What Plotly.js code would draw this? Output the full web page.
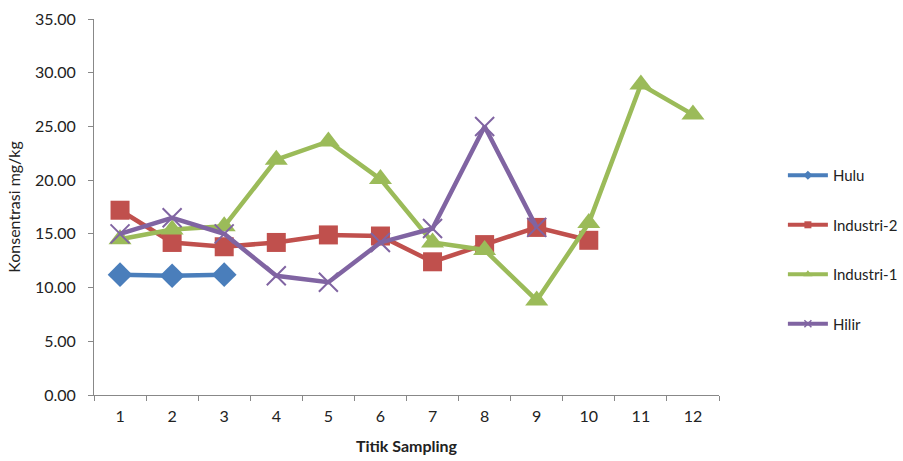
<!DOCTYPE html>
<html>
<head>
<meta charset="utf-8">
<script src="https://cdn.plot.ly/plotly-3.0.1.min.js"></script>
<style>html,body{margin:0;padding:0;background:#fff;}#chart{width:903px;height:461px;}</style>
</head>
<body>
<div id="chart"></div>
<script>
const categories = ['1','2','3','4','5','6','7','8','9','10','11','12'];
const seriesNames = ['Hulu','Industri-2','Industri-1','Hilir'];
const hulu = [11.2, 11.1, 11.2];
const industri2 = [17.2, 14.2, 13.8, 14.2, 14.9, 14.8, 12.4, 14.0, 15.6, 14.4];
const industri1 = [14.5, 15.4, 15.7, 21.9, 23.6, 20.1, 14.2, 13.5, 8.8, 16.0, 28.9, 26.1];
const hilir = [15.0, 16.5, 15.0, 11.1, 10.5, 14.2, 15.5, 25.0, 15.6];
const colors = ['#4A7EBB', '#C0504D', '#9BBB59', '#8064A2'];

const font = 'Lato, "Open Sans", sans-serif';
const values = [hulu, industri2, industri1, hilir];
const symbols = ['diamond', 'square', 'triangle-up', 'x-thin'];
const sizes = [19, 19, 20, 19];
const legSizes = [7, 7, 8, 7];

const traces = [];
values.forEach((v, i) => {
  const mk = {symbol: symbols[i], size: sizes[i], color: colors[i]};
  if (symbols[i] === 'x-thin') mk.line = {color: colors[i], width: 2};
  traces.push({
    type: 'scatter', mode: 'lines+markers',
    x: categories.slice(0, v.length), y: v,
    name: seriesNames[i], showlegend: false,
    line: {color: colors[i], width: 4.5},
    marker: mk, cliponaxis: false
  });
});
values.forEach((v, i) => {
  const mk = {symbol: symbols[i], size: legSizes[i], color: colors[i]};
  if (symbols[i] === 'x-thin') mk.line = {color: colors[i], width: 1.5};
  traces.push({
    type: 'scatter', mode: 'lines+markers',
    x: [null], y: [null], name: seriesNames[i], legendgroup: 'g' + i,
    line: {color: colors[i], width: 4}, marker: mk
  });
});

const layout = {
  width: 903, height: 461,
  margin: {l: 94, r: 184, t: 19, b: 66},
  paper_bgcolor: '#fff', plot_bgcolor: '#fff',
  font: {family: font, size: 16, color: '#222'},
  xaxis: {
    type: 'category', categoryorder: 'array', categoryarray: categories,
    range: [-0.5, 11.5], tickson: 'boundaries',
    showline: true, linecolor: '#888', linewidth: 1,
    ticks: 'outside', ticklen: 5, tickcolor: '#888',
    showgrid: false, zeroline: false, ticklabelstandoff: 7,
    tickfont: {size: 16, family: font, color: '#222'},
    title: {text: '<b>Titik Sampling</b>', font: {size: 16, family: font, color: '#222'}, standoff: 16}
  },
  yaxis: {
    range: [0, 35], dtick: 5, tickformat: '.2f',
    showline: true, linecolor: '#888', linewidth: 1,
    ticks: 'outside', ticklen: 5, tickcolor: '#888',
    showgrid: false, zeroline: false, ticklabelstandoff: 9,
    tickfont: {size: 16, family: font, color: '#222'},
    title: {text: 'Konsentrasi mg/kg', font: {size: 16, family: font, color: '#222'}, standoff: 10}
  },
  legend: {
    xref: 'container', yref: 'container', x: 0.867, y: 0.655, xanchor: 'left', yanchor: 'top',
    traceorder: 'grouped', tracegroupgap: 27,
    font: {size: 15, family: font, color: '#222'}, bgcolor: 'rgba(0,0,0,0)', itemwidth: 40
  },
  showlegend: true
};

Plotly.newPlot('chart', traces, layout, {displayModeBar: false, staticPlot: true});
</script>
</body>
</html>
